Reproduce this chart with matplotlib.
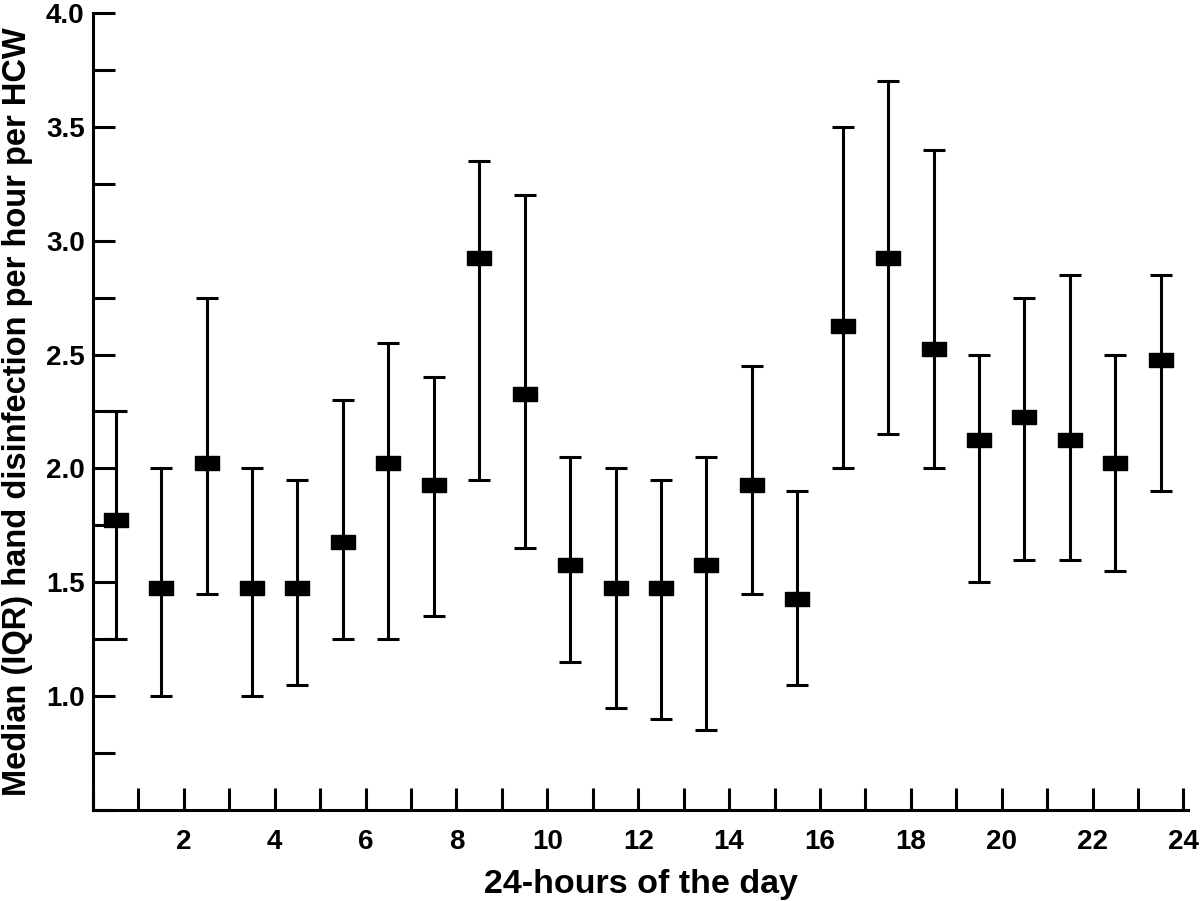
import matplotlib.pyplot as plt
from matplotlib.ticker import MultipleLocator, FuncFormatter

hours = [0.5, 1.5, 2.5, 3.5, 4.5, 5.5, 6.5, 7.5, 8.5, 9.5, 10.5, 11.5,
         12.5, 13.5, 14.5, 15.5, 16.5, 17.5, 18.5, 19.5, 20.5, 21.5, 22.5, 23.5]
median = [1.775, 1.475, 2.025, 1.475, 1.475, 1.675, 2.025, 1.925, 2.925, 2.325, 1.575, 1.475,
          1.475, 1.575, 1.925, 1.425, 2.625, 2.925, 2.525, 2.125, 2.225, 2.125, 2.025, 2.475]
q1 = [1.25, 1.0, 1.45, 1.0, 1.05, 1.25, 1.25, 1.35, 1.95, 1.65, 1.15, 0.95,
      0.9, 0.85, 1.45, 1.05, 2.0, 2.15, 2.0, 1.5, 1.6, 1.6, 1.55, 1.9]
q3 = [2.25, 2.0, 2.75, 2.0, 1.95, 2.3, 2.55, 2.4, 3.35, 3.2, 2.05, 2.0,
      1.95, 2.05, 2.45, 1.9, 3.5, 3.7, 3.4, 2.5, 2.75, 2.85, 2.5, 2.85]

plt.rcParams['font.family'] = ['Liberation Sans', 'DejaVu Sans']
plt.rcParams['font.weight'] = 'bold'

fig = plt.figure(figsize=(12, 9.01), dpi=100)
ax = fig.add_axes([0.0775, 0.101, 0.9125, 0.8846])

# IQR as error bars around the median
lo = [m - a for m, a in zip(median, q1)]
hi = [b - m for m, b in zip(median, q3)]
ax.errorbar(hours, median, yerr=[lo, hi], fmt='none', ecolor='black',
            elinewidth=2.2, capsize=8, capthick=2.2)

# wide rectangle marker for median
rect = [(-1.7, -1), (1.7, -1), (1.7, 1), (-1.7, 1), (-1.7, -1)]
ax.plot(hours, median, linestyle='none', marker=rect, markersize=17,
        color='black', zorder=5)

ax.set_xlim(0, 24.1)
ax.set_ylim(0.5, 4.0)
ax.xaxis.set_major_locator(MultipleLocator(1))
ax.yaxis.set_major_locator(MultipleLocator(0.25))
ax.xaxis.set_major_formatter(FuncFormatter(lambda v, p: '%d' % v if v % 2 == 0 and v > 0 else ''))
ax.yaxis.set_major_formatter(FuncFormatter(lambda v, p: '%.1f' % v if abs(v * 2 - round(v * 2)) < 1e-6 and v > 0.6 else ''))

for s in ['top', 'right']:
    ax.spines[s].set_visible(False)
for s in ['left', 'bottom']:
    ax.spines[s].set_linewidth(2.2)

ax.tick_params(direction='in', length=16, width=2.2, labelsize=20)
ax.tick_params(axis='x', pad=14)
ax.tick_params(axis='y', pad=6)

ax.set_xlabel('24-hours of the day', fontsize=24.5, fontweight='bold', labelpad=10)
ax.set_ylabel('Median (IQR) hand disinfection per hour per HCW', fontsize=23.5,
              fontweight='bold', labelpad=9)

plt.savefig('out.png', dpi=100)
